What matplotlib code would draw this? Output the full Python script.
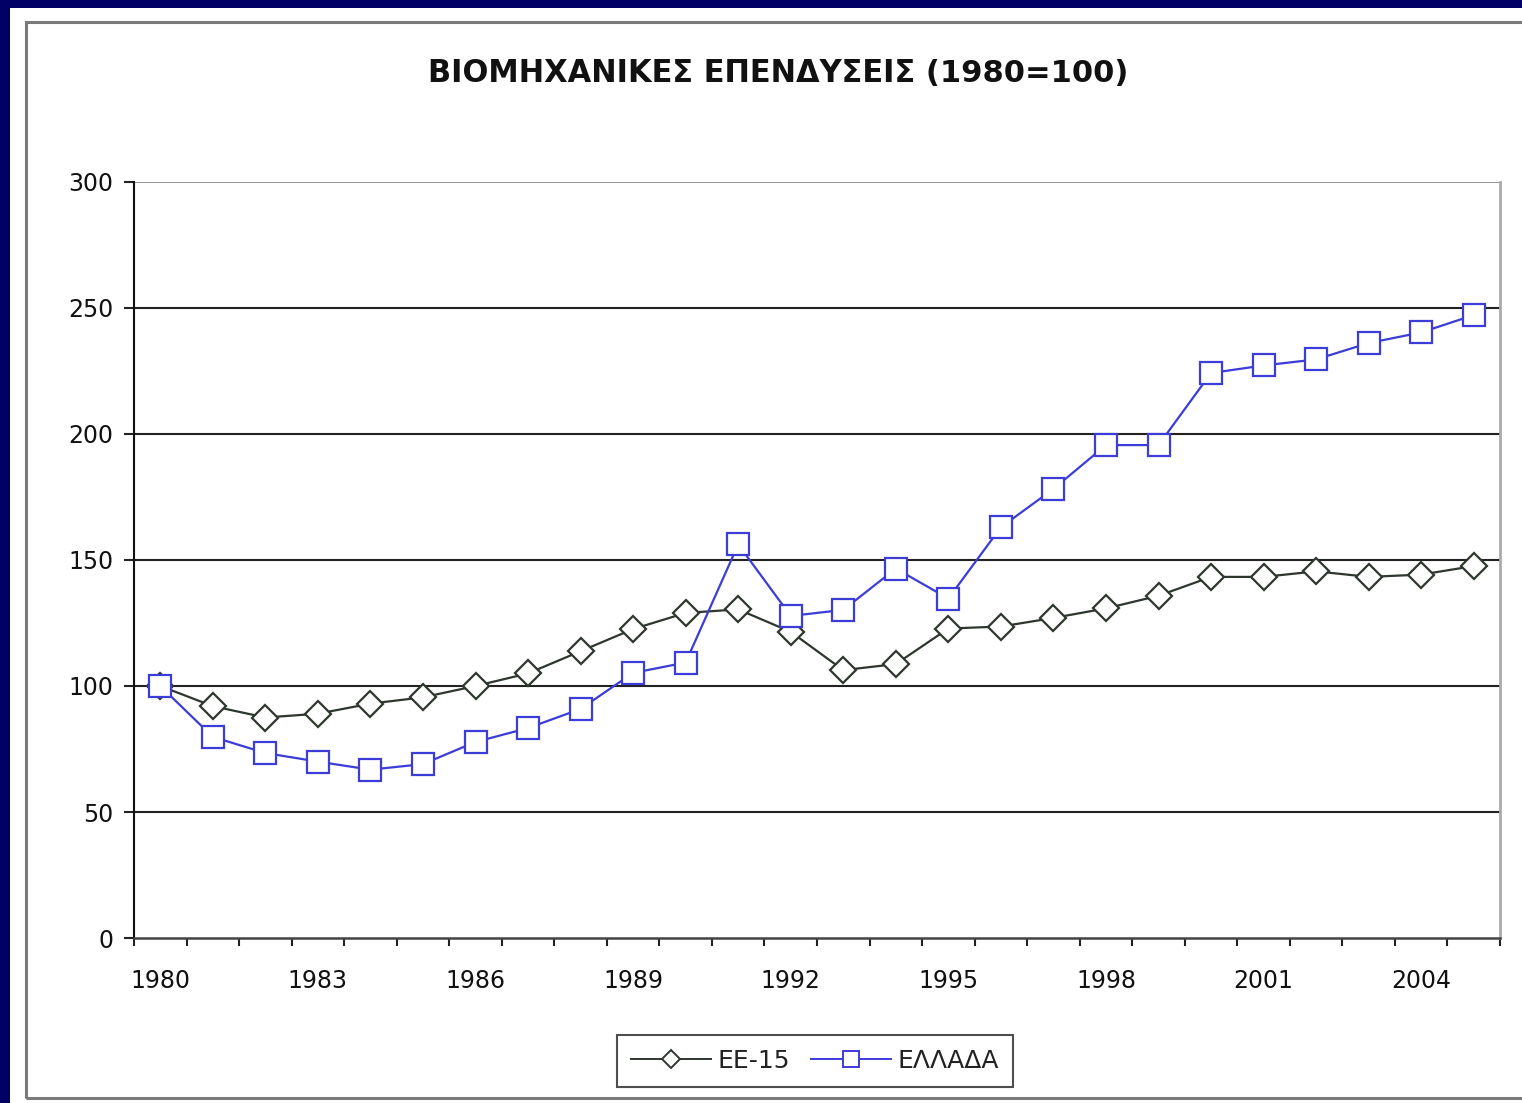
import matplotlib
matplotlib.use('Agg')
import matplotlib.pyplot as plt
from matplotlib.lines import Line2D
from matplotlib.patches import Rectangle
import numpy as np

# data (index, 1980 = 100)
years = list(range(1980, 2006))
ee15 = [100, 92, 87.5, 89, 93, 95.5, 100, 105, 113.8, 122.6, 129, 130.4, 121.5, 106.3, 108.7,
        122.8, 123.6, 127, 130.8, 135.8, 143.3, 143.3, 145.5, 143.3, 144.2, 147.6]
ellada = [100, 79.8, 73.4, 70, 66.8, 69, 77.8, 83.3, 90.9, 105.2, 109.3, 156.2, 127.8, 130.2, 146.6,
          134.7, 163, 178.2, 195.6, 195.6, 224.2, 227.2, 229.6, 236.1, 240.3, 247.2]
tick_years = [1980, 1983, 1986, 1989, 1992, 1995, 1998, 2001, 2004]

NAVY = '#000066'
GREY_LINE = '#2e372e'
BLUE = '#3c3cd8'

fig = plt.figure(figsize=(15.22, 11.03), dpi=100)
fig.patch.set_facecolor(NAVY)

# white panel and its grey frame
fig.patches.append(Rectangle((10 / 1522, 0), 1, 1 - 8 / 1103, transform=fig.transFigure,
                             facecolor='white', edgecolor='none', zorder=-2))
fig.patches.append(Rectangle((26 / 1522, 5 / 1103), 1.2, 1 - 27 / 1103, transform=fig.transFigure,
                             facecolor='none', edgecolor='#7a7a7a', linewidth=2.2, zorder=-1))

ax = fig.add_axes([134 / 1522, 1 - 938 / 1103, (1500 - 134) / 1522, (938 - 182) / 1103])
ax.set_zorder(2)
ax.set_facecolor('white')

x = np.arange(len(years))
ax.plot(x, ee15, color=GREY_LINE, linewidth=1.6, marker='D', markersize=13.5,
        markerfacecolor='white', markeredgecolor=GREY_LINE, markeredgewidth=1.6,
        label='ΕΕ-15', zorder=3)
ax.plot(x, ellada, color=BLUE, linewidth=1.6, marker='s', markersize=16,
        markerfacecolor='white', markeredgecolor=BLUE, markeredgewidth=1.6,
        label='ΕΛΛΑΔΑ', zorder=4)

ax.set_xlim(-0.5, len(years) - 0.5)
ax.set_ylim(0, 300)
ax.set_yticks(range(0, 301, 50))
for v in range(50, 251, 50):
    ax.axhline(v, color='#222222', linewidth=1.5, zorder=1)
ax.axhline(300, color='#999999', linewidth=1.5, zorder=1)

# category ticks: marks on boundaries, labels every third year
ax.set_xticks([years.index(y) for y in tick_years])
ax.set_xticklabels([str(y) for y in tick_years])
ax.set_xticks(np.arange(-0.5, len(years), 1), minor=True)
ax.tick_params(axis='x', which='major', length=0, pad=22, labelsize=17, labelcolor='#111111')
ax.tick_params(axis='x', which='minor', length=6, width=1.5, direction='out', color='#222222')
ax.tick_params(axis='y', length=7, width=1.5, pad=8, labelsize=17, labelcolor='#111111', color='#222222')

ax.spines['left'].set_color('#111111')
ax.spines['left'].set_linewidth(1.5)
ax.spines['bottom'].set_color('#444444')
ax.spines['bottom'].set_linewidth(1.8)
ax.spines['top'].set_visible(False)
ax.spines['right'].set_color('#aaaaaa')
ax.spines['right'].set_linewidth(2)

fig.text(778 / 1522, 1 - 73 / 1103, 'ΒΙΟΜΗΧΑΝΙΚΕΣ ΕΠΕΝΔΥΣΕΙΣ (1980=100)', ha='center', va='center',
         fontsize=22, fontweight='bold', color='#111111')

handles = [
    Line2D([], [], color=GREY_LINE, linewidth=1.4, marker='D', markersize=9,
           markerfacecolor='white', markeredgecolor=GREY_LINE, markeredgewidth=1.4),
    Line2D([], [], color=BLUE, linewidth=1.4, marker='s', markersize=11,
           markerfacecolor='white', markeredgecolor=BLUE, markeredgewidth=1.4),
]
leg = fig.legend(handles, ['ΕΕ-15', 'ΕΛΛΑΔΑ'], loc='center', ncol=2,
                 bbox_to_anchor=(815 / 1522, 1 - 1061 / 1103), fontsize=18, frameon=True,
                 fancybox=False, handlelength=3.2, handletextpad=0.3, columnspacing=0.8,
                 borderpad=0.55)
leg.get_frame().set_edgecolor('#222222')
leg.get_frame().set_linewidth(1.5)
for t in leg.get_texts():
    t.set_color('#222222')

plt.savefig('out.png', dpi=100, facecolor=fig.get_facecolor())
print("saved out.png")
